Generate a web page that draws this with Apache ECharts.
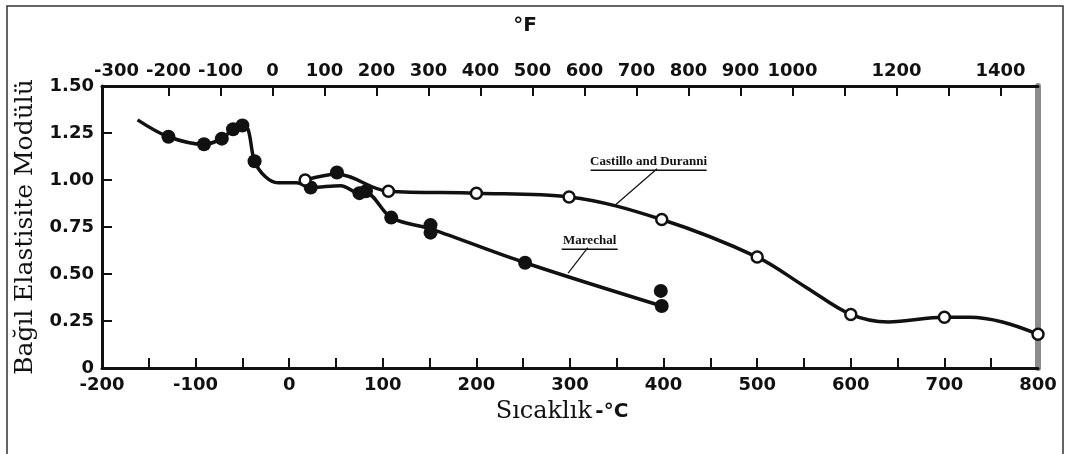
<!DOCTYPE html>
<html>
<head>
<meta charset="utf-8">
<script src="https://cdn.jsdelivr.net/npm/echarts@6/dist/echarts.min.js"></script>
<style>
html, body { margin: 0; padding: 0; background: #fff; }
#main { width: 1065px; height: 454px; }
</style>
</head>
<body>
<div id="main"></div>
<script>
// sıcaklık (°C) - bağıl elastisite modülü
var marechalCurve = [[-162, 1.32], [-129, 1.23], [-91, 1.19], [-72, 1.22], [-60, 1.27], [-50, 1.29], [-44, 1.27],
    [-37, 1.10], [-26, 1.02], [-12, 0.985], [8, 0.985], [23, 0.96], [55, 0.97], [75, 0.93], [82, 0.93],
    [109, 0.80], [151, 0.74], [252, 0.56], [398, 0.33]];
var marechalPoints = [[-129, 1.23], [-91, 1.19], [-72, 1.22], [-60, 1.27], [-50, 1.29], [-37, 1.10], [23, 0.96],
    [51, 1.04], [75, 0.93], [82, 0.94], [109, 0.80], [151, 0.76], [151, 0.72], [252, 0.56], [397, 0.41], [398, 0.33]];
var castilloCurve = [[17, 1.00], [51, 1.03], [106, 0.94], [200, 0.93], [299, 0.91], [398, 0.79], [500, 0.59],
    [552, 0.43], [600, 0.285], [640, 0.245], [700, 0.27], [727, 0.27], [762, 0.245], [800, 0.18]];
var castilloPoints = [[17, 1.00], [106, 0.94], [200, 0.93], [299, 0.91], [398, 0.79], [500, 0.59],
    [600, 0.285], [700, 0.27], [800, 0.18]];

var cLabels = [-200, -100, 0, 100, 200, 300, 400, 500, 600, 700, 800];
var cTicks = [-150, -100, -50, 0, 50, 100, 150, 200, 250, 300, 350, 400, 450, 500, 550, 600, 650, 700, 750];
var fLabels = [-300, -200, -100, 0, 100, 200, 300, 400, 500, 600, 700, 800, 900, 1000, 1200, 1400];
var fTicks = [-200, -100, 0, 100, 200, 300, 400, 500, 600, 700, 800, 900, 1000, 1100, 1200, 1300, 1400];

function cToF(c) {
    return c * 9 / 5 + 32;
}

var ink = '#111';
var tickFont = {
    fontFamily: 'DejaVu Sans',
    fontWeight: 'bold',
    fontSize: 18,
    color: ink
};

var chart = echarts.init(document.getElementById('main'));

var option = {
    animation: false,
    backgroundColor: '#fff',
    grid: {
        left: 102,
        right: 27,
        top: 86,
        bottom: 86
    },
    xAxis: [{
        type: 'value',
        position: 'bottom',
        min: -200,
        max: 800,
        name: '{a|Sıcaklık} {b|-°C}',
        nameLocation: 'middle',
        nameGap: 32,
        nameTextStyle: {
            padding: [0, 16, 0, 0],
            rich: {
                a: { fontFamily: 'DejaVu Serif', fontSize: 24, color: ink },
                b: { fontFamily: 'DejaVu Sans', fontWeight: 'bold', fontSize: 20, color: ink }
            }
        },
        axisLine: { onZero: false, lineStyle: { color: ink, width: 3 } },
        axisTick: { inside: true, length: 10, lineStyle: { color: ink, width: 2 }, customValues: cTicks },
        axisLabel: Object.assign({ margin: 8, customValues: cLabels, formatter: String }, tickFont),
        splitLine: { show: false }
    }, {
        type: 'value',
        position: 'top',
        min: cToF(-200),
        max: cToF(800),
        name: '°F',
        nameLocation: 'middle',
        nameGap: 50,
        nameTextStyle: {
            fontFamily: 'DejaVu Sans',
            fontWeight: 'bold',
            fontSize: 20,
            color: ink,
            padding: [0, 90, 0, 0]
        },
        axisLine: { onZero: false, lineStyle: { color: ink, width: 3 } },
        axisTick: { inside: true, length: 10, lineStyle: { color: ink, width: 2 }, customValues: fTicks },
        axisLabel: Object.assign({ margin: 6, customValues: fLabels, formatter: String }, tickFont),
        splitLine: { show: false }
    }],
    yAxis: [{
        type: 'value',
        min: 0,
        max: 1.5,
        interval: 0.25,
        name: 'Bağıl Elastisite Modülü',
        nameLocation: 'middle',
        nameRotate: 90,
        nameGap: 64,
        nameTextStyle: { fontFamily: 'DejaVu Serif', fontSize: 25, color: ink },
        axisLine: { show: true, onZero: false, lineStyle: { color: ink, width: 3 } },
        axisTick: { show: true, inside: true, length: 10, lineStyle: { color: ink, width: 2 } },
        axisLabel: Object.assign({
            margin: 8,
            formatter: function (v) {
                return v === 0 ? '0' : v.toFixed(2);
            }
        }, tickFont),
        splitLine: { show: false }
    }, {
        type: 'value',
        position: 'right',
        min: 0,
        max: 1.5,
        axisLine: { show: true, onZero: false, lineStyle: { color: '#8c8c8c', width: 6 } },
        axisTick: { show: false },
        axisLabel: { show: false },
        splitLine: { show: false }
    }],
    series: [{
        name: 'Marechal',
        type: 'line',
        smooth: 0.35,
        showSymbol: false,
        data: marechalCurve,
        lineStyle: { color: ink, width: 3.5 },
        z: 2
    }, {
        name: 'Marechal',
        type: 'scatter',
        data: marechalPoints,
        symbolSize: 14,
        itemStyle: { color: ink, opacity: 1 },
        z: 3
    }, {
        name: 'Castillo and Duranni',
        type: 'line',
        smooth: 0.35,
        showSymbol: false,
        data: castilloCurve,
        lineStyle: { color: ink, width: 3.5 },
        z: 2
    }, {
        name: 'Castillo and Duranni',
        type: 'scatter',
        data: castilloPoints,
        symbolSize: 11,
        itemStyle: { color: '#fff', borderColor: ink, borderWidth: 2.5, opacity: 1 },
        z: 4
    }]
};
chart.setOption(option);

// etiketler ve işaret çizgileri (veri koordinatlarından)
function px(p) {
    return chart.convertToPixel({ gridIndex: 0 }, p);
}
var notes = [
    { text: 'Castillo and Duranni', at: [384, 1.10], from: [393, 1.06], to: [349, 0.87], half: 58 },
    { text: 'Marechal', at: [321, 0.68], from: [319, 0.64], to: [298, 0.505], half: 28 }
];
var graphics = [{
    type: 'rect',
    shape: { x: 7, y: 6, width: 1056, height: 470 },
    style: { fill: null, stroke: '#333', lineWidth: 1.5 },
    silent: true
}];
notes.forEach(function (n) {
    var a = px(n.at), f = px(n.from), t = px(n.to);
    graphics.push({
        type: 'text',
        style: {
            text: n.text, x: a[0], y: a[1],
            font: 'bold 13px "Liberation Serif"', fill: ink,
            align: 'center', verticalAlign: 'middle'
        }
    });
    graphics.push({
        type: 'line',
        shape: { x1: a[0] - n.half, y1: a[1] + 9, x2: a[0] + n.half, y2: a[1] + 9 },
        style: { stroke: ink, lineWidth: 1.5 }
    });
    graphics.push({
        type: 'line',
        shape: { x1: f[0], y1: f[1], x2: t[0], y2: t[1] },
        style: { stroke: ink, lineWidth: 1.2 }
    });
});
chart.setOption({ graphic: graphics });
</script>
</body>
</html>
